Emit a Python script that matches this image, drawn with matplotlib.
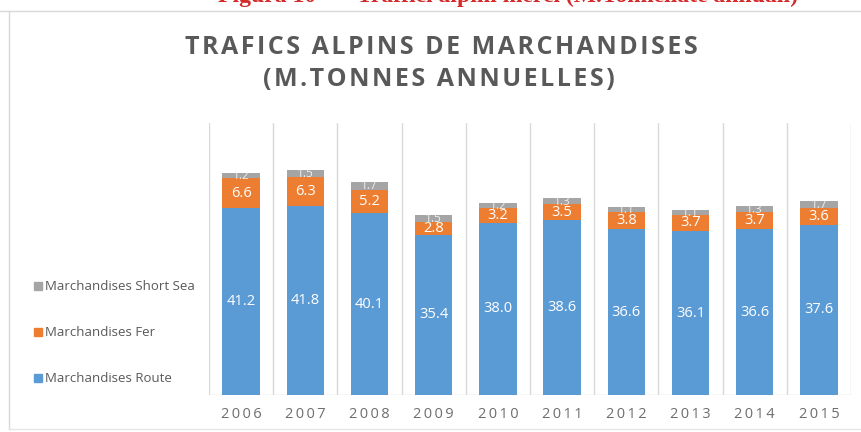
import matplotlib.pyplot as plt
from matplotlib.lines import Line2D
import numpy as np

years = ["2006", "2007", "2008", "2009", "2010", "2011", "2012", "2013", "2014", "2015"]
route = [41.2, 41.8, 40.1, 35.4, 38.0, 38.6, 36.6, 36.1, 36.6, 37.6]
fer = [6.6, 6.3, 5.2, 2.8, 3.2, 3.5, 3.8, 3.7, 3.7, 3.6]
short_sea = [1.2, 1.5, 1.7, 1.5, 1.2, 1.3, 1.1, 1.1, 1.3, 1.7]
series_names = ["Marchandises Route", "Marchandises Fer", "Marchandises Short Sea"]

c_route = "#5b9bd5"
c_fer = "#ed7d31"
c_sea = "#a5a5a5"
grey_txt = "#595959"

plt.rcParams["font.family"] = ["Open Sans", "DejaVu Sans"]


def spaced(s, sep="\u200a"):
    # crude letter spacing, like the office chart title
    return sep.join(s)


W, H = 861, 432
fig = plt.figure(figsize=(W / 100, H / 100), dpi=100)
ax = fig.add_axes([209 / W, 1 - 395 / H, (851 - 209) / W, (395 - 123) / H])

x = np.arange(len(years))
route = np.array(route)
fer = np.array(fer)
short_sea = np.array(short_sea)
bw = 0.58
ax.bar(x, route, bw, color=c_route, zorder=3)
ax.bar(x, fer, bw, bottom=route, color=c_fer, zorder=3)
ax.bar(x, short_sea, bw, bottom=route + fer, color=c_sea, zorder=3)

for i in range(len(years)):
    ax.text(x[i], route[i] / 2, f"{route[i]:.1f}", ha="center", va="center",
            color="white", fontsize=10.5, zorder=4)
    ax.text(x[i], route[i] + fer[i] / 2, f"{fer[i]:.1f}", ha="center", va="center",
            color="white", fontsize=10.5, zorder=4)
    ax.text(x[i], route[i] + fer[i] + short_sea[i] / 2, f"{short_sea[i]:.1f}",
            ha="center", va="center", color="white", fontsize=8.5, alpha=0.8, zorder=4)

ax.set_xlim(-0.5, len(years) - 0.5)
ax.set_ylim(0, 60)
for b in np.arange(-0.5, len(years), 1):
    ax.axvline(b, color="#d9d9d9", lw=1, zorder=1)
for s in ax.spines.values():
    s.set_visible(False)
ax.axhline(0, color="#d9d9d9", lw=1, zorder=2)
ax.set_yticks([])
ax.set_xticks(x)
ax.set_xticklabels([spaced(y, "\u2009") for y in years], fontsize=10.5, color="#6e6e6e")
ax.tick_params(axis="x", length=0, pad=9)

# titles
fig.text(441 / W, 1 - 48 / H, spaced("TRAFICS ALPINS DE MARCHANDISES"), ha="center",
         va="center", fontsize=18, fontweight="bold", color=grey_txt)
fig.text(439 / W, 1 - 80 / H, spaced("(M.TONNES ANNUELLES)"), ha="center", va="center",
         fontsize=18, fontweight="bold", color=grey_txt)

# cut header from the document
fig.text(218 / W, 1 - 2 / H, "Figura 10       Traffici alpini merci (M.Tonnellate annuali)",
         ha="left", va="baseline", fontsize=17, fontweight="bold", color="#d42a2a",
         family="Liberation Serif")

# legend on the left, stacked top to bottom
leg_y = [286, 332, 378]
leg_cols = [c_sea, c_fer, c_route]
leg_names = [series_names[2], series_names[1], series_names[0]]
for yy, cc, nn in zip(leg_y, leg_cols, leg_names):
    fig.patches.append(plt.Rectangle((34 / W, 1 - (yy + 4) / H), 8 / W, 8 / H,
                                     transform=fig.transFigure, color=cc))
    fig.text(45 / W, 1 - yy / H, nn, ha="left", va="center", fontsize=9.5, color=grey_txt)

# outer frame
fig.lines.append(Line2D([0, 1], [1 - 11 / H, 1 - 11 / H], transform=fig.transFigure,
                        color="#d9d9d9", lw=1))
fig.lines.append(Line2D([9 / W, 9 / W], [1 - 11 / H, 1 - 429 / H], transform=fig.transFigure,
                        color="#d9d9d9", lw=1))
fig.lines.append(Line2D([9 / W, 1], [1 - 429 / H, 1 - 429 / H], transform=fig.transFigure,
                        color="#e6e6e6", lw=1))

fig.savefig("out.png", dpi=100)
